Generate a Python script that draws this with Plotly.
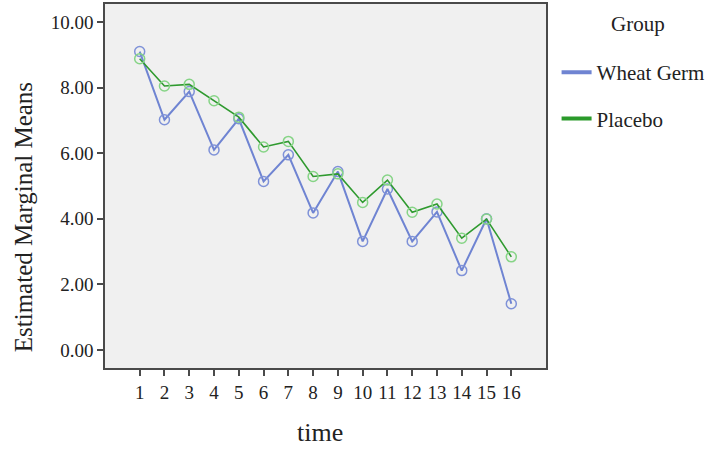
import plotly.graph_objects as go

# ── Data ──────────────────────────────────────────────────────────────────────
time_points = list(range(1, 17))
tick_labels = [str(t) for t in time_points]
wheat_germ = [9.10, 7.02, 7.88, 6.10, 7.05, 5.14, 5.95, 4.18,
              5.44, 3.31, 4.91, 3.31, 4.21, 2.42, 4.00, 1.41]
placebo = [8.88, 8.05, 8.10, 7.60, 7.10, 6.19, 6.36, 5.29,
           5.37, 4.50, 5.18, 4.20, 4.45, 3.41, 3.99, 2.84]
y_ticks = [0, 2, 4, 6, 8, 10]
y_tick_labels = ["0.00", "2.00", "4.00", "6.00", "8.00", "10.00"]

# ── Styling ───────────────────────────────────────────────────────────────────
FONT = "Liberation Serif, Times New Roman, serif"
WG_LINE, WG_MARK = "#6f84d2", "#7f92d8"
PL_LINE, PL_MARK = "#2f9a2f", "#86d486"
FRAME = "#4a4a4a"
TXT = "#222"

fig = go.Figure()

fig.add_trace(go.Scatter(
    x=time_points, y=wheat_germ, mode="lines+markers", showlegend=False,
    line=dict(color=WG_LINE, width=2),
    marker=dict(symbol="circle-open", size=10, color=WG_MARK, line=dict(width=1.5))))
fig.add_trace(go.Scatter(
    x=time_points, y=placebo, mode="lines+markers", showlegend=False,
    line=dict(color=PL_LINE, width=1.6),
    marker=dict(symbol="circle-open", size=10, color=PL_MARK, line=dict(width=1.5))))

# legend-only entries (thick short lines, like the SPSS legend)
fig.add_trace(go.Scatter(x=[None], y=[None], mode="lines", name="Wheat Germ",
                         legendgroup="wg", line=dict(color=WG_LINE, width=4)))
fig.add_trace(go.Scatter(x=[None], y=[None], mode="lines", name="Placebo",
                         legendgroup="pl", line=dict(color="#2a9a2a", width=4)))

axis_common = dict(showline=True, linecolor=FRAME, linewidth=1.5, mirror=True,
                   showgrid=False, zeroline=False, ticks="outside", ticklen=6,
                   tickwidth=1.5, tickcolor=FRAME, automargin=False,
                   tickfont=dict(family=FONT, size=19, color=TXT))

fig.update_layout(
    width=714, height=451,
    margin=dict(l=105, r=166, t=4, b=83),
    paper_bgcolor="white", plot_bgcolor="#f0f0f0",
    font=dict(family=FONT, color=TXT),
    xaxis=dict(**axis_common, range=[-0.4, 17.4], tickvals=time_points,
               ticktext=tick_labels),
    yaxis=dict(**axis_common, range=[-0.55, 10.55], tickvals=y_ticks,
               ticktext=y_tick_labels),
    legend=dict(x=1.024, y=0.868, xanchor="left", yanchor="top",
                tracegroupgap=16, itemwidth=30,
                font=dict(family=FONT, size=21, color=TXT),
                bgcolor="rgba(0,0,0,0)"),
    annotations=[
        dict(text="Group", xref="paper", yref="paper", x=1.209, y=0.944,
             xanchor="center", yanchor="middle", showarrow=False,
             font=dict(family=FONT, size=21, color=TXT)),
        dict(text="Estimated Marginal Means", xref="paper", yref="paper",
             x=-0.183, y=0.415, textangle=-90, xanchor="center", yanchor="middle",
             showarrow=False, font=dict(family=FONT, size=25, color=TXT)),
        dict(text="time", xref="paper", yref="paper", x=0.4876, y=-0.176,
             xanchor="center", yanchor="middle", showarrow=False,
             font=dict(family=FONT, size=26, color=TXT)),
    ],
)

# drop the page's default body margin so the figure sits at the window origin
fig.write_html("out.html", config={"displayModeBar": False},
               post_script="document.body.style.margin='0';")
